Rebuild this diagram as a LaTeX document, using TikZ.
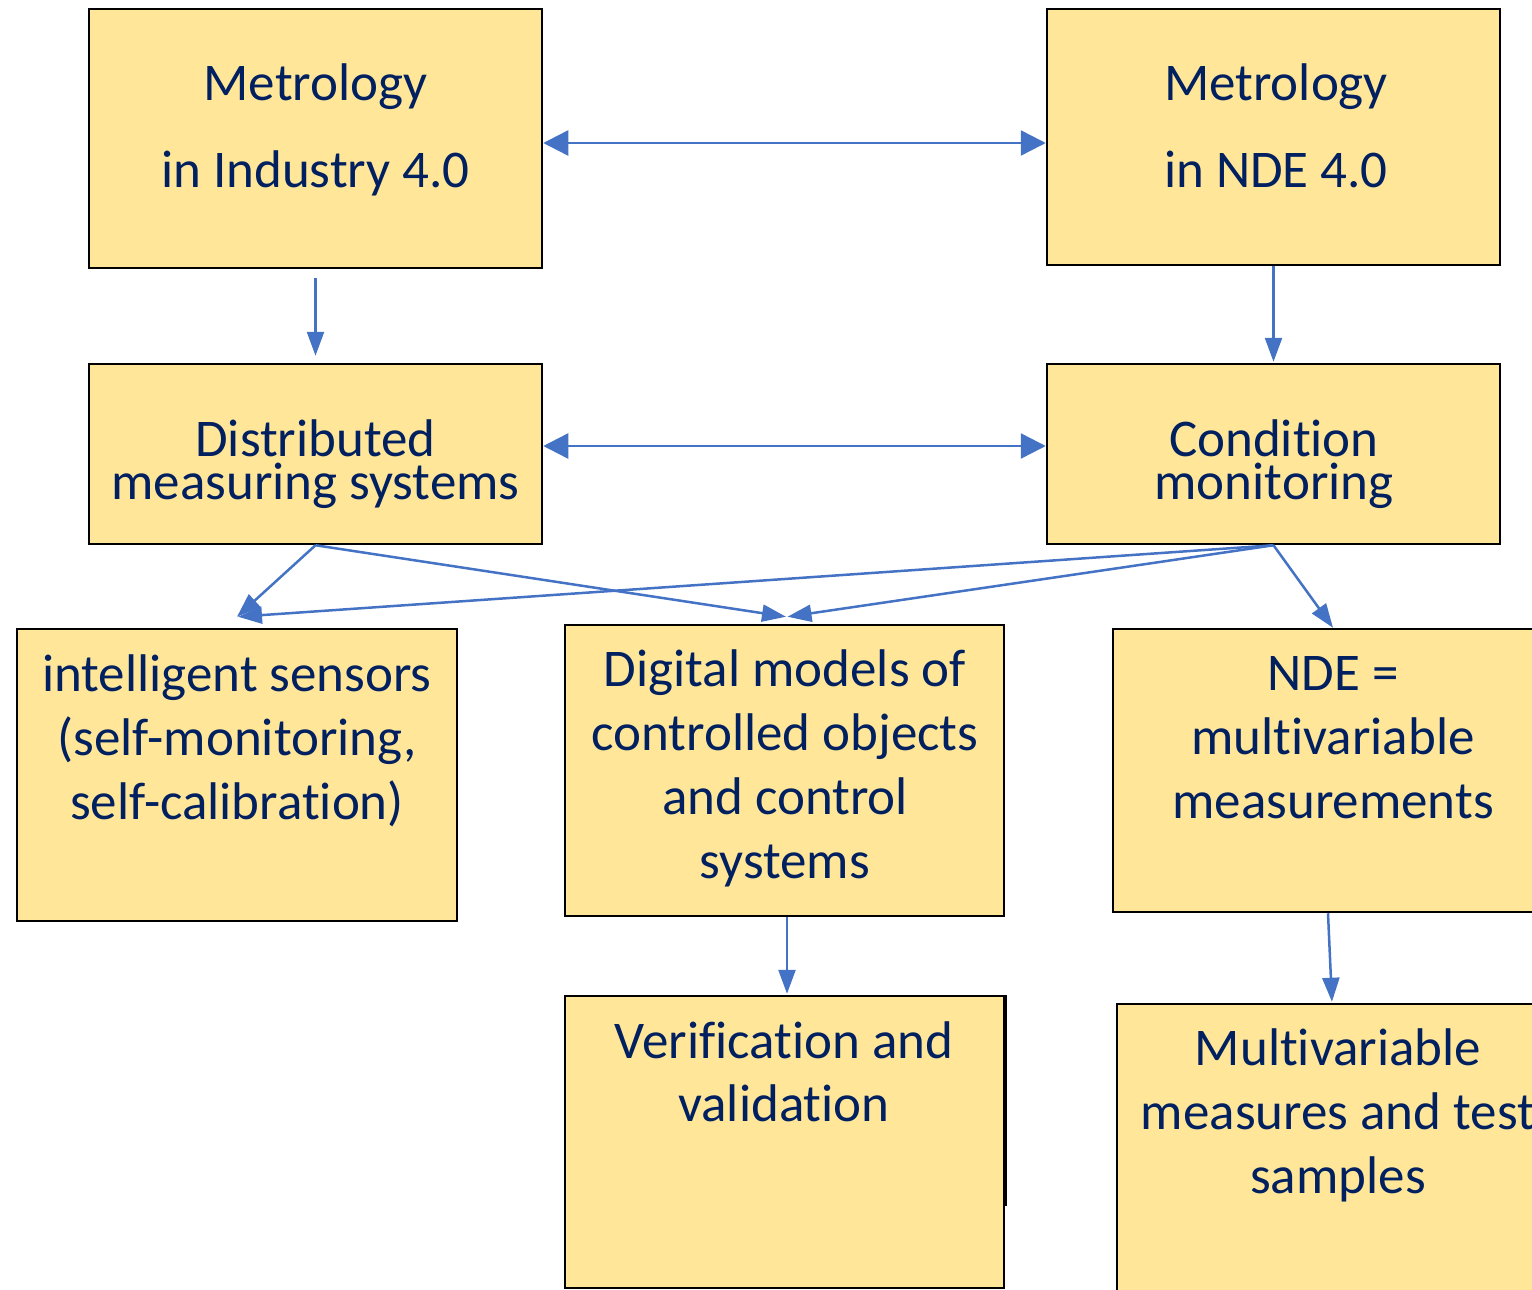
\documentclass[tikz,border=0pt]{standalone}
\usepackage{fontspec}
\setmainfont{Carlito}[Ligatures=NoCommon]
\usetikzlibrary{arrows.meta,fit}
\definecolor{boxfill}{HTML}{FFE699}
\definecolor{ink}{HTML}{002060}
\definecolor{link}{HTML}{4472C4}
\begin{document}
\begin{tikzpicture}[x=1pt,y=-1pt,
  box/.style={draw=black, line width=2.5pt, fill=boxfill, inner sep=0pt},
  txt/.style={text=ink, align=flush center, anchor=base, inner sep=0pt,
    text width=520pt, font=\fontsize{53}{#1}\selectfont},
  arr/.style={draw=link, line width=2.5pt, -{Triangle[length=24pt,width=17pt]}},
  dblarr/.style={draw=link, line width=2.5pt,
    {Triangle[length=25pt,width=25pt]}-{Triangle[length=25pt,width=25pt]}}]
\useasboundingbox (0,0) rectangle (1532,1290);
\clip (0,0) rectangle (1532,1290);

% boxes
\node[box, fit={(89,9) (542,268)}] (A) {};
\node[box, fit={(1047,9) (1500,265)}] (B) {};
\node[box, fit={(89,364) (542,544)}] (C) {};
\node[box, fit={(1047,364) (1500,544)}] (D) {};
\node[box, fit={(17,629) (457,921)}] (E) {};
\node[box, fit={(565,625) (1004,916)}] (F) {};
\node[box, fit={(1113,629) (1543,912)}] (G) {};
\node[box, fit={(565,996) (1004,1288)}] (H) {};
\node[box, fit={(1117,1004) (1547,1310)}] (I) {};
% heavier stroke along part of the right edge of H
\draw[line width=4pt] (H.north east) -- ([yshift=-211pt]H.north east);

% texts
\node[txt=88] (At) at (315.5,100) {Metrology\\in Industry 4.0};
\node[txt=88] (Bt) at (1276,100) {Metrology\\in NDE 4.0};
\node[txt=43] (Ct) at (315.5,456) {Distributed\\measuring systems};
\node[txt=43] (Dt) at (1274,456) {Condition\\monitoring};
\node[txt=64] (Et) at (237,691) {intelligent sensors\\(self-monitoring,\\self-calibration)};
\node[txt=64] (Ft) at (785,686) {Digital models of\\controlled objects\\and control\\systems};
\node[txt=64] (Gt) at (1333,690) {NDE =\\multivariable\\measurements};
\node[txt=63] (Ht) at (784,1058) {Verification and\\validation};
\node[txt=64] (It) at (1338,1065) {Multivariable\\measures and test\\samples};

% connectors
\draw[dblarr] (A.east |- 0,143) -- (B.west |- 0,143);
\draw[dblarr] (C.east |- 0,446) -- (D.west |- 0,446);
\draw[arr, shorten <=9pt, shorten >=7pt] (A.south) -- (C.north);
\draw[arr, shorten >=1pt] (B.south) -- (D.north);
\draw[arr] (C.south) -- ([yshift=11pt]E.north);
\draw[arr] (C.south) -- ([xshift=1.5pt,yshift=7pt]F.north);
\draw[arr] (D.south) -- ([xshift=1pt,yshift=11pt]E.north);
\draw[arr] (D.south) -- ([xshift=3pt,yshift=7pt]F.north);
\draw[arr] (D.south) -- ([xshift=5pt]G.north);
\draw[arr, shorten >=1pt] (G.south) -- (I.north);
\draw[arr, shorten >=1pt] ([xshift=2.5pt]F.south) -- ([xshift=2.5pt]H.north);
\end{tikzpicture}
\end{document}
